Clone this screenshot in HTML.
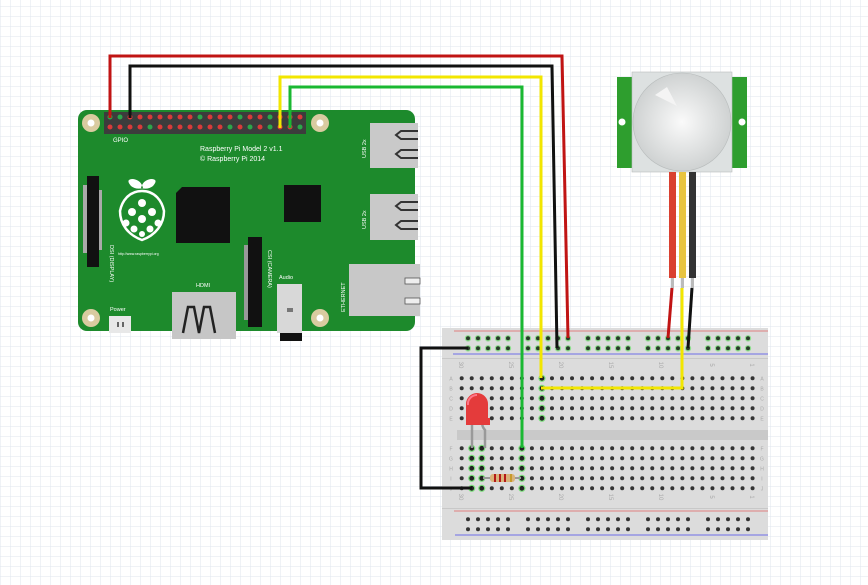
<!DOCTYPE html>
<html><head><meta charset="utf-8"><style>
html,body{margin:0;padding:0;width:868px;height:585px;overflow:hidden;background:#fff}
svg{display:block}
text{font-family:"Liberation Sans",sans-serif}
</style></head><body>
<svg id="s" width="868" height="585" viewBox="0 0 868 585" xmlns="http://www.w3.org/2000/svg">
<defs>
<pattern id="g" width="10" height="10" patternUnits="userSpaceOnUse" x="0.5" y="6.5">
<path d="M10 0V10M0 10H10" stroke="#dfe5ee" stroke-width="1" fill="none"/>
</pattern>
<radialGradient id="dome" cx="0.5" cy="0.5" r="0.5"><stop offset="0" stop-color="#fafafa"/><stop offset="1" stop-color="#cfd2d2"/></radialGradient>
</defs>
<rect width="868" height="585" fill="#fff"/>
<rect width="868" height="585" fill="url(#g)"/>

<!-- Raspberry Pi board -->
<rect x="78" y="110" width="337" height="221" rx="9" fill="#1d8a2c"/>
<rect x="104" y="112" width="202" height="22" fill="#3c3c3c"/>
<g id="pins"></g>
<text x="113" y="142" font-size="6" fill="#fff">GPIO</text>
<g fill="#d9cba0"><circle cx="91" cy="123" r="9"/><circle cx="320" cy="123" r="9"/><circle cx="91" cy="318" r="9"/><circle cx="320" cy="318" r="9"/></g>
<g fill="#fff"><circle cx="91" cy="123" r="3.5"/><circle cx="320" cy="123" r="3.5"/><circle cx="91" cy="318" r="3.5"/><circle cx="320" cy="318" r="3.5"/></g>
<text x="200" y="151" font-size="7" fill="#fff">Raspberry Pi Model 2 v1.1</text>
<text x="200" y="161" font-size="7" fill="#fff">© Raspberry Pi 2014</text>
<!-- USB -->
<rect x="370" y="123" width="48" height="45" fill="#c9c9c9"/>
<rect x="370" y="194" width="48" height="46" fill="#c9c9c9"/>
<path d="M418 131h-17l-5 4 5 4h17M418 150h-17l-5 4 5 4h17M418 202h-17l-5 4 5 4h17M418 221h-17l-5 4 5 4h17" stroke="#333" stroke-width="2" fill="none"/>
<text transform="translate(366,158) rotate(-90)" font-size="5.5" fill="#fff">USB 2x</text>
<text transform="translate(366,229) rotate(-90)" font-size="5.5" fill="#fff">USB 2x</text>
<!-- Ethernet -->
<rect x="349" y="264" width="71" height="52" fill="#c8c8c8"/>
<rect x="405" y="278" width="15" height="6" fill="#eee" stroke="#555" stroke-width="0.8"/>
<rect x="405" y="298" width="15" height="6" fill="#eee" stroke="#555" stroke-width="0.8"/>
<text transform="translate(345,312) rotate(-90)" font-size="5.5" fill="#fff">ETHERNET</text>
<!-- chips -->
<path d="M182 187h48v56h-54v-50z" fill="#111"/>
<rect x="284" y="185" width="37" height="37" fill="#111"/>
<!-- DSI -->
<rect x="87" y="176" width="12" height="91" fill="#111"/>
<rect x="83" y="185" width="4" height="68" fill="#aaa"/>
<rect x="99" y="190" width="3" height="60" fill="#aaa"/>
<text transform="translate(110,245) rotate(90)" font-size="5.5" fill="#fff">DSI (DISPLAY)</text>
<!-- logo -->
<g fill="none" stroke="#fff" stroke-width="2.5">
<path d="M131 186q-6 -7 2 -7q8 1 10 9q-7 2 -12 -2zM153 186q6 -7 -2 -7q-8 1 -10 9q7 2 12 -2z" fill="#fff" stroke="none"/>
<path d="M142 191c-13 0-20 10-22 20c0 13 8 24 22 29c14-5 22-16 22-29c-2-10-9-20-22-20z"/>
</g>
<g fill="#fff"><circle cx="142" cy="203" r="4"/><circle cx="132" cy="212" r="4"/><circle cx="152" cy="212" r="4"/><circle cx="142" cy="219" r="4"/><circle cx="126" cy="223" r="3.5"/><circle cx="158" cy="223" r="3.5"/><circle cx="134" cy="229" r="3.5"/><circle cx="150" cy="229" r="3.5"/><circle cx="142" cy="234" r="3"/></g>
<text x="118" y="255" font-size="3.5" fill="#fff">http://www.raspberrypi.org</text>
<!-- CSI -->
<rect x="248" y="237" width="14" height="90" fill="#111"/>
<rect x="244" y="245" width="4" height="75" fill="#999"/>
<text transform="translate(268,250) rotate(90)" font-size="5.5" fill="#fff">CSI (CAMERA)</text>
<!-- HDMI -->
<text x="196" y="287" font-size="5.5" fill="#fff">HDMI</text>
<rect x="172" y="292" width="64" height="47" fill="#c6c6c6"/>
<path d="M183 333l5-26h6l5 26 5-26h6l5 26" stroke="#222" stroke-width="2.5" fill="none"/>
<!-- Audio -->
<text x="279" y="279" font-size="5.5" fill="#fff">Audio</text>
<rect x="277" y="284" width="25" height="49" fill="#d8d8d8"/>
<rect x="280" y="333" width="22" height="8" fill="#111"/>
<rect x="287" y="308" width="6" height="4" fill="#777"/>
<!-- Power -->
<text x="110" y="311" font-size="5.5" fill="#fff">Power</text>
<rect x="109" y="316" width="22" height="17" fill="#e8e8e8"/>
<rect x="117" y="322" width="2" height="5" fill="#666"/><rect x="122" y="322" width="2" height="5" fill="#666"/>

<!-- Breadboard -->
<rect x="442" y="328" width="326" height="212" fill="#dcdcdc"/>
<rect x="442" y="358" width="326" height="1" fill="#c8c8c8"/>
<rect x="442" y="508" width="326" height="1" fill="#c8c8c8"/>
<rect x="457" y="430" width="311" height="10" fill="#c9c9c9"/>
<line x1="454" y1="331" x2="768" y2="331" stroke="#e06060" stroke-width="0.8"/>
<line x1="453" y1="354" x2="768" y2="354" stroke="#4a4aee" stroke-width="0.8"/>
<line x1="454" y1="511" x2="768" y2="511" stroke="#e06060" stroke-width="0.8"/>
<line x1="455" y1="535" x2="768" y2="535" stroke="#4a4aee" stroke-width="0.8"/>
<g id="holes"></g>
<g font-size="6" fill="#aaa" id="nums"></g>

<!-- PIR -->
<rect x="617" y="77" width="16" height="91" fill="#2e9e2e"/>
<rect x="731" y="77" width="16" height="91" fill="#2e9e2e"/>
<circle cx="622" cy="122" r="3.5" fill="#fff"/><circle cx="742" cy="122" r="3.5" fill="#fff"/>
<rect x="632" y="72" width="100" height="100" fill="#dde1e1" stroke="#b8bcbc" stroke-width="0.6"/>
<circle cx="682" cy="122" r="49" fill="url(#dome)" stroke="#b8bcbc" stroke-width="0.6"/>
<path d="M655 95l12-8 10 19z" fill="#f4f4f4"/>
<rect x="669" y="172" width="7" height="106" fill="#d94030"/>
<rect x="679" y="172" width="7" height="106" fill="#e8c440"/>
<rect x="689" y="172" width="7" height="106" fill="#333"/>
<rect x="671" y="278" width="3" height="10" fill="#bbb"/><rect x="681" y="278" width="3" height="10" fill="#bbb"/><rect x="691" y="278" width="3" height="10" fill="#bbb"/>

<!-- LED -->
<path d="M472 422v26M482 422q0 5 3 8v18" stroke="#999" stroke-width="2.5" fill="none"/>
<path d="M466 425v-21a11 11 0 0 1 22 0v14h2v7z" fill="#e43b3b"/>
<path d="M468 405a9 9 0 0 1 9 -10" stroke="#f78" stroke-width="2" fill="none"/>
<!-- resistor -->
<line x1="483" y1="478" x2="521" y2="478" stroke="#999" stroke-width="2"/>
<rect x="490" y="474" width="25" height="8" rx="3" fill="#d9b27a"/>
<g fill="#b51a1a"><rect x="494" y="474" width="2" height="8"/><rect x="499" y="474" width="2" height="8"/><rect x="504" y="474" width="2" height="8"/></g>
<rect x="510" y="474" width="2" height="8" fill="#c79a2b"/>

<!-- Wires -->
<g fill="none" stroke-linejoin="miter" stroke-width="3">
<path d="M110 118V56H562L568 338" stroke="#c01414"/>
<path d="M130 118V66H552L557 348" stroke="#111"/>
<path d="M280 128V77H541V378" stroke="#f2e600"/>
<path d="M290 128V87H522V448" stroke="#1ab832"/>
<path d="M672 288L668 338" stroke="#c01414"/>
<path d="M692 288L688 348" stroke="#111"/>
<path d="M682 288V388H541" stroke="#f2e600"/>
<path d="M468 348H421V488H472" stroke="#111"/>
</g>
</svg>
<script>
var NS="http://www.w3.org/2000/svg",s=document.getElementById('s');
function c(p,x,y,r,f,st){var e=document.createElementNS(NS,'circle');e.setAttribute('cx',x);e.setAttribute('cy',y);e.setAttribute('r',r);e.setAttribute('fill',f);if(st){e.setAttribute('stroke',st);e.setAttribute('stroke-width',1.2);}p.appendChild(e);}
var pins=document.getElementById('pins');
var gTop=[0,1,9,13,16],gBot=[4,12,14,16,19];
for(var i=0;i<20;i++){var x=110+i*10;c(pins,x,117,2.5,gTop.indexOf(i)>=0?'#2aa84a':'#d93a3a');c(pins,x,127,2.5,gBot.indexOf(i)>=0?'#2aa84a':'#d93a3a');}
var h=document.getElementById('holes');
var green={};
function G(k){green[k]=1;}
for(var r=0;r<5;r++){G('8,'+r);}
for(var r=5;r<10;r++){G('6,'+r);G('1,'+r);G('2,'+r);}
for(var i=0;i<30;i++){var x=461.7+i*10.03;
 for(var r=0;r<10;r++){var y=r<5?378.3+r*10:448.3+(r-5)*10;
  if(green[i+','+r]) c(h,x,y,3,'#222','#7ee07e'); else c(h,x,y,2,'#333');}}
var gs=[468,528,588,648,708];
gs.forEach(function(g0,gi){for(var k=0;k<5;k++){var x=g0+k*10;
 c(h,x,338.3,2.6,'#2a3a2a','#8fe08f');c(h,x,348.3,2.6,'#2a3a2a','#8fe08f');
 c(h,x,519.3,2,'#333');c(h,x,529.3,2,'#333');}});
var nums=document.getElementById('nums');
[[30,461],[25,511],[20,561],[15,611],[10,661],[5,712],[1,752]].forEach(function(a){
 [367,499].forEach(function(y){var t=document.createElementNS(NS,'text');t.setAttribute('x',a[1]);t.setAttribute('y',y);t.setAttribute('text-anchor','middle');t.setAttribute('transform','rotate(90 '+a[1]+' '+(y-2)+')');t.textContent=a[0];nums.appendChild(t);});});
'ABCDEFGHIJ'.split('').forEach(function(L,r){var y=(r<5?378.3+r*10:448.3+(r-5)*10)+2;
 [451,762].forEach(function(x){var t=document.createElementNS(NS,'text');t.setAttribute('x',x);t.setAttribute('y',y);t.setAttribute('text-anchor','middle');t.setAttribute('font-size','5');t.textContent=L;nums.appendChild(t);});});
</script>
</body></html>
